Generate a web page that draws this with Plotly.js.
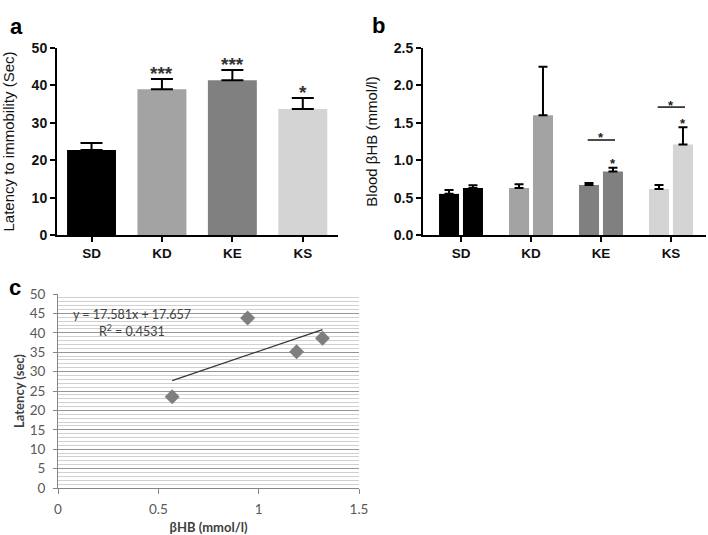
<!DOCTYPE html>
<html>
<head>
<meta charset="utf-8">
<script src="https://cdn.plot.ly/plotly-3.0.1.min.js"></script>
<style>html,body{margin:0;padding:0;background:#fff;}#chart{width:708px;height:535px;}</style>
</head>
<body>
<div id="chart"></div>
<script>
// ---- data ----
const categories = ['SD', 'KD', 'KE', 'KS'];
const latencyMean = [22.7, 39.0, 41.4, 33.7];
const latencyErr = [1.9, 2.7, 2.7, 2.9];
const latencySig = ['', '***', '***', '*'];

const bhbMean1 = [0.55, 0.63, 0.67, 0.615];
const bhbErr1 = [0.05, 0.05, 0.025, 0.055];
const bhbMean2 = [0.63, 1.60, 0.85, 1.21];
const bhbErr2 = [0.035, 0.65, 0.05, 0.23];
const bhbSig2 = ['', '', '*', '*'];
const bracketCats = ['KE', 'KS'];
const bracketLevel = [1.27, 1.71];
const bracketSig = ['*', '*'];

const groupColors = ['#000000', '#a3a3a3', '#808080', '#d4d4d4'];

const scatterBhb = [0.569, 0.945, 1.189, 1.318];
const scatterLatency = [23.5, 43.8, 35.1, 38.6];
const fitSlope = 17.581;
const fitIntercept = 17.657;
const fitR2 = 0.4531;

// ---- helpers ----
const W = 708, H = 535;
const px = v => v / W;
const py = v => 1 - v / H;
const zeros = a => a.map(() => 0);
const boldFont = {family: 'Liberation Sans, Arial, sans-serif', size: 14, color: '#111', weight: 'bold'};
const xlFont = {family: 'Lato, Open Sans, sans-serif', size: 13.5, color: '#595959'};

const traces = [];
// Panel a
traces.push({
  type: 'bar', x: categories, y: latencyMean, width: 0.695,
  marker: {color: groupColors, line: {width: 0}},
  error_y: {type: 'data', symmetric: false, array: latencyErr, arrayminus: zeros(latencyErr), color: '#000', thickness: 2, width: 11},
  xaxis: 'x', yaxis: 'y', hoverinfo: 'skip'
});
// Panel b
const bw = 0.286, bOff = 0.171;
traces.push({
  type: 'bar', x: categories, y: bhbMean1, width: bw, offset: -bOff - bw / 2,
  marker: {color: groupColors, line: {width: 0}},
  error_y: {type: 'data', symmetric: false, array: bhbErr1, arrayminus: zeros(bhbErr1), color: '#000', thickness: 2, width: 4.5},
  xaxis: 'x2', yaxis: 'y2', hoverinfo: 'skip'
});
traces.push({
  type: 'bar', x: categories, y: bhbMean2, width: bw, offset: bOff - bw / 2,
  marker: {color: groupColors, line: {width: 0}},
  error_y: {type: 'data', symmetric: false, array: bhbErr2, arrayminus: zeros(bhbErr2), color: '#000', thickness: 2, width: 4.5},
  xaxis: 'x2', yaxis: 'y2', hoverinfo: 'skip'
});
// Panel c
const xMin = Math.min(...scatterBhb), xMax = Math.max(...scatterBhb);
traces.push({
  type: 'scatter', mode: 'lines', x: [xMin, xMax], y: [fitSlope * xMin + fitIntercept, fitSlope * xMax + fitIntercept],
  line: {color: '#333333', width: 1.2}, xaxis: 'x3', yaxis: 'y3', hoverinfo: 'skip'
});
traces.push({
  type: 'scatter', mode: 'markers', x: scatterBhb, y: scatterLatency,
  marker: {symbol: 'diamond', size: 11.5, color: '#7f7f7f'}, xaxis: 'x3', yaxis: 'y3', hoverinfo: 'skip'
});

const annotations = [];
// panel letters
annotations.push({xref: 'paper', yref: 'paper', x: px(8), y: py(12), text: '<b>a</b>', showarrow: false, font: {family: 'Liberation Sans, Arial', size: 22, color: '#000'}});
annotations.push({xref: 'paper', yref: 'paper', x: px(378), y: py(11), text: '<b>b</b>', showarrow: false, font: {family: 'Liberation Sans, Arial', size: 22, color: '#000'}});
annotations.push({xref: 'paper', yref: 'paper', x: px(7), y: py(287), text: '<b>c</b>', showarrow: false, font: {family: 'Liberation Sans, Arial', size: 22, color: '#000'}});
// panel a stars
categories.forEach((c, i) => {
  if (latencySig[i]) annotations.push({xref: 'x', yref: 'y', x: c, y: latencyMean[i] + latencyErr[i], yanchor: 'middle', yshift: 6,
    text: latencySig[i], showarrow: false, font: {family: 'Liberation Sans, Arial', size: 19, color: '#333', weight: 'bold'}});
});
// panel b stars over second bars
categories.forEach((c, i) => {
  if (bhbSig2[i]) annotations.push({xref: 'x2', yref: 'y2', x: i + bOff, y: bhbMean2[i] + bhbErr2[i], yanchor: 'middle', yshift: 4,
    text: bhbSig2[i], showarrow: false, font: {family: 'Liberation Sans, Arial', size: 13, color: '#222', weight: 'bold'}});
});
const shapes = [];
bracketCats.forEach((c, k) => {
  const i = categories.indexOf(c);
  shapes.push({type: 'line', xref: 'x2', yref: 'y2', x0: i - 0.19, x1: i + 0.2, y0: bracketLevel[k], y1: bracketLevel[k], line: {color: '#111', width: 1.5}});
  annotations.push({xref: 'x2', yref: 'y2', x: i, y: bracketLevel[k], yanchor: 'middle', yshift: 2,
    text: bracketSig[k], showarrow: false, font: {family: 'Liberation Sans, Arial', size: 13, color: '#222', weight: 'bold'}});
});
// panel c equation
annotations.push({xref: 'x3', yref: 'y3', x: 0.368, y: 44.8, text: 'y = ' + fitSlope + 'x + ' + fitIntercept, showarrow: false, font: {family: 'Lato, Open Sans, sans-serif', size: 12.5, color: '#404040'}});
annotations.push({xref: 'x3', yref: 'y3', x: 0.37, y: 40.7, text: 'R<sup>2</sup> = ' + fitR2, showarrow: false, font: {family: 'Lato, Open Sans, sans-serif', size: 12.5, color: '#404040'}});

// minor gridlines every unit, skipping the major (every 5) positions
const minorVals = [];
for (let v = 1; v < 50; v++) if (v % 5 !== 0) minorVals.push(v);

const barX = (dom, rng) => ({
  domain: dom, type: 'category', range: rng, showline: true, linewidth: 2, linecolor: '#000',
  ticks: 'outside', ticklen: 5, tickwidth: 2, tickcolor: '#000', showgrid: false, zeroline: false,
  tickfont: Object.assign({}, boldFont, {size: 13.5}), fixedrange: true
});
const barY = (dom, rng, dt, fmt, title, standoff) => ({
  domain: dom, range: rng, dtick: dt, tickformat: fmt, showline: true, linewidth: 2, linecolor: '#000',
  ticks: 'outside', ticklen: 5, tickwidth: 2, tickcolor: '#000', showgrid: false, zeroline: false,
  tickfont: boldFont, fixedrange: true,
  title: {text: title, standoff: standoff, font: {family: 'Liberation Sans, Arial, sans-serif', size: 15, color: '#111'}}
});

const layout = {
  width: W, height: H, margin: {l: 0, r: 0, t: 0, b: 0, pad: 0},
  paper_bgcolor: '#fff', plot_bgcolor: 'rgba(0,0,0,0)', showlegend: false,
  xaxis: Object.assign(barX([px(57), px(338)], [-0.49, 3.5]), {anchor: 'y'}),
  yaxis: Object.assign(barY([py(235), py(48)], [0, 50], 10, '', 'Latency to immobility (Sec)', 14), {anchor: 'x'}),
  xaxis2: Object.assign(barX([px(423), px(706)], [-0.543, 3.5]), {anchor: 'y2'}),
  yaxis2: Object.assign(barY([py(235), py(48)], [0, 2.5], 0.5, '.1f', 'Blood βHB (mmol/l)', 12), {anchor: 'x2'}),
  xaxis3: {
    domain: [px(58), px(359)], anchor: 'y3', range: [0, 1.5], dtick: 0.5, tickformat: '', showline: true, linewidth: 1, linecolor: '#868686',
    ticks: 'outside', ticklen: 5, tickcolor: '#868686', ticklabelstandoff: 4, showgrid: false, zeroline: false, tickfont: xlFont, fixedrange: true,
    title: {text: '<b>βHB (mmol/l)</b>', standoff: 11, font: {family: 'Lato, Open Sans, sans-serif', size: 13, color: '#404040'}}
  },
  yaxis3: {
    domain: [py(488), py(294)], anchor: 'x3', range: [0, 50], dtick: 5, showline: true, linewidth: 1, linecolor: '#868686',
    ticks: 'outside', ticklen: 4, tickcolor: '#868686', ticklabelstandoff: 5, showgrid: true, gridcolor: '#959595', gridwidth: 1, zeroline: false,
    minor: {tickmode: 'array', tickvals: minorVals, showgrid: true, gridcolor: '#d0d0d0', gridwidth: 1, ticks: ''},
    tickfont: xlFont, fixedrange: true,
    title: {text: '<b>Latency (sec)</b>', standoff: 2, font: {family: 'Lato, Open Sans, sans-serif', size: 13, color: '#404040'}}
  },
  annotations: annotations, shapes: shapes
};

Plotly.newPlot('chart', traces, layout, {staticPlot: true, displayModeBar: false});
</script>
</body>
</html>
